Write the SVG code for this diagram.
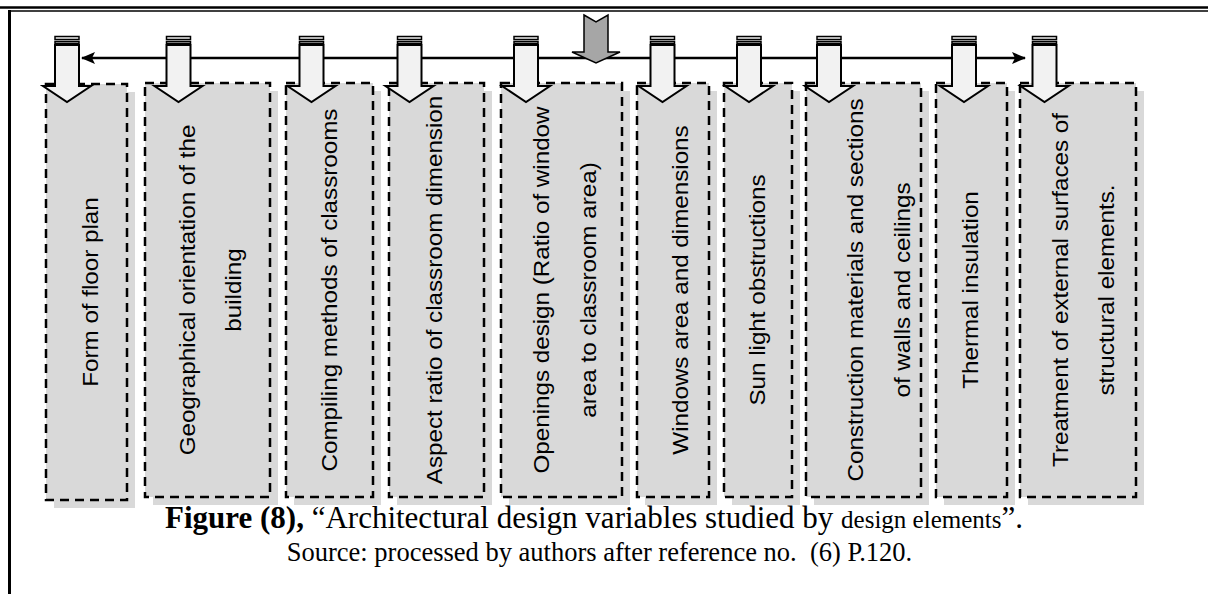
<svg xmlns="http://www.w3.org/2000/svg" width="1208" height="594" viewBox="0 0 1208 594">
<defs>
<style>
.sh{fill:#d9d9d9;stroke:none}
.bx{fill:#d9d9d9;stroke:#000;stroke-width:2.5;stroke-dasharray:9 6}
.lbl{font-family:"Liberation Sans",Arial,sans-serif;font-size:22px;fill:#000;text-anchor:middle}
.ar{fill:#f2f2f2;stroke:#000;stroke-width:2;stroke-linejoin:miter}
.cap{fill:#f2f2f2;stroke:#000;stroke-width:1.5}
.cp{font-family:"Liberation Serif","Times New Roman",serif;fill:#000;text-anchor:middle;white-space:pre}
</style>
<marker id="ah" viewBox="0 0 14 12" refX="13" refY="6" markerWidth="14" markerHeight="12" markerUnits="userSpaceOnUse" orient="auto-start-reverse">
<path d="M0,0 L14,6 L0,12 L3,6 Z" fill="#000"/>
</marker>
<g id="dnarrow">
<rect class="cap" x="-12" y="36.5" width="24" height="3"/>
<rect class="cap" x="-12" y="41.5" width="24" height="2"/>
<path class="ar" d="M-12,45 H12 V86 H24 L0,102 L-24,86 H-12 Z"/>
</g>
</defs>
<g id="frame" fill="none" stroke="#000">
<line x1="0" y1="7.5" x2="1208" y2="7.5" stroke-width="2.5"/>
<line x1="9" y1="11" x2="1208" y2="11" stroke-width="1.5"/>
<line x1="9.5" y1="10" x2="9.5" y2="594" stroke-width="3"/>
</g>
<g id="connectors">
<line x1="82" y1="58" x2="1025" y2="58" stroke="#000" stroke-width="2.5" marker-start="url(#ah)" marker-end="url(#ah)"/>
</g>
<g id="source-arrow">
<path d="M584,15 L596,22 L608,15 V52 H620 L596,63 L572,52 H584 Z" fill="#a6a6a6" stroke="#000" stroke-width="1.5"/>
</g>
<g id="n1"><rect class="sh" x="54" y="92" width="81" height="416"/><rect class="bx" x="46" y="84" width="81" height="416"/>
<text class="lbl" transform="translate(98,292) rotate(-90) scale(1.1,1)">Form of floor plan</text><use href="#dnarrow" x="67"/></g>
<g id="n2"><rect class="sh" x="153" y="91" width="125" height="414"/><rect class="bx" x="145" y="83" width="125" height="414"/>
<text class="lbl" transform="translate(195,290) rotate(-90) scale(1.1,1)">Geographical orientation of the</text>
<text class="lbl" transform="translate(241,290) rotate(-90) scale(1.1,1)">building</text><use href="#dnarrow" x="178.5"/></g>
<g id="n3"><rect class="sh" x="294" y="91" width="87" height="414"/><rect class="bx" x="286" y="83" width="87" height="414"/>
<text class="lbl" transform="translate(337,290) rotate(-90) scale(1.1,1)">Compiling methods of classrooms</text><use href="#dnarrow" x="311.5"/></g>
<g id="n4"><rect class="sh" x="397" y="91" width="95" height="414"/><rect class="bx" x="389" y="83" width="95" height="414"/>
<text class="lbl" transform="translate(442,290) rotate(-90) scale(1.1,1)">Aspect ratio of classroom dimension</text><use href="#dnarrow" x="409.5"/></g>
<g id="n5"><rect class="sh" x="509" y="91" width="121" height="414"/><rect class="bx" x="501" y="83" width="121" height="414"/>
<text class="lbl" transform="translate(549,290) rotate(-90) scale(1.1,1)">Openings design (Ratio of window</text>
<text class="lbl" transform="translate(596,290) rotate(-90) scale(1.1,1)">area to classroom area)</text><use href="#dnarrow" x="526"/></g>
<g id="n6"><rect class="sh" x="645" y="91" width="72" height="414"/><rect class="bx" x="637" y="83" width="72" height="414"/>
<text class="lbl" transform="translate(688,290) rotate(-90) scale(1.1,1)">Windows area and dimensions</text><use href="#dnarrow" x="662.5"/></g>
<g id="n7"><rect class="sh" x="732" y="91" width="68" height="414"/><rect class="bx" x="724" y="83" width="68" height="414"/>
<text class="lbl" transform="translate(765,290) rotate(-90) scale(1.1,1)">Sun light obstructions</text><use href="#dnarrow" x="749"/></g>
<g id="n8"><rect class="sh" x="814" y="91" width="115" height="414"/><rect class="bx" x="806" y="83" width="115" height="414"/>
<text class="lbl" transform="translate(863,290) rotate(-90) scale(1.1,1)">Construction materials and sections</text>
<text class="lbl" transform="translate(910,290) rotate(-90) scale(1.1,1)">of walls and ceilings</text><use href="#dnarrow" x="829"/></g>
<g id="n9"><rect class="sh" x="944" y="91" width="71" height="414"/><rect class="bx" x="936" y="83" width="71" height="414"/>
<text class="lbl" transform="translate(978,290) rotate(-90) scale(1.1,1)">Thermal insulation</text><use href="#dnarrow" x="964"/></g>
<g id="n10"><rect class="sh" x="1028" y="91" width="116" height="414"/><rect class="bx" x="1020" y="83" width="116" height="414"/>
<text class="lbl" transform="translate(1068,290) rotate(-90) scale(1.1,1)">Treatment of external surfaces of</text>
<text class="lbl" transform="translate(1114,290) rotate(-90) scale(1.1,1)">structural elements.</text><use href="#dnarrow" x="1044.5"/></g>
<g id="caption">
<text class="cp" x="594" y="528" font-size="31px"><tspan font-weight="bold">Figure (8),</tspan> “Architectural design variables studied by <tspan font-size="25px">design elements</tspan>”.</text>
<text class="cp" x="599.5" y="561" font-size="26.5px">Source: processed by authors after reference no.  (6) P.120.</text>
</g>
</svg>
